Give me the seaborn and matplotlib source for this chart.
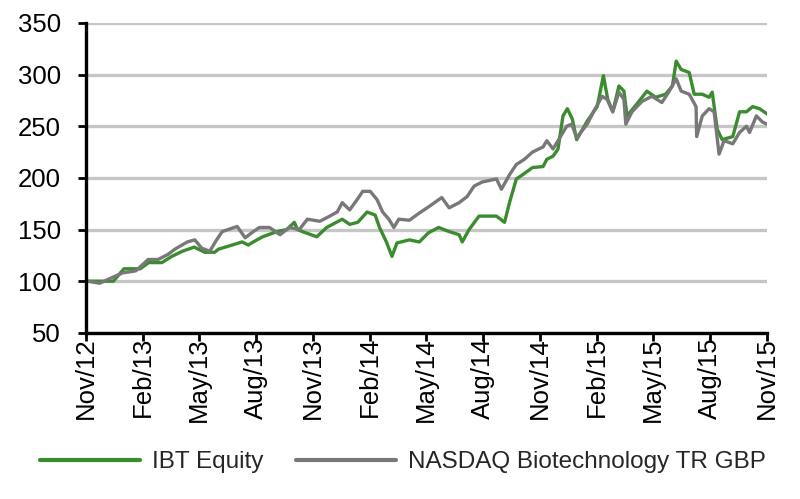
import pandas as pd
import matplotlib.pyplot as plt
import matplotlib.dates as mdates
import seaborn as sns

# === Values
ibt_dates = [
    "2012-11-04", "2012-12-15", "2013-01-01", "2013-01-27", "2013-02-10", "2013-03-03",
    "2013-03-19", "2013-04-05", "2013-04-24", "2013-05-11", "2013-05-27", "2013-06-02",
    "2013-06-24", "2013-07-10", "2013-07-20", "2013-07-28", "2013-08-12", "2013-09-04",
    "2013-09-20", "2013-10-02", "2013-10-07", "2013-10-15", "2013-11-07", "2013-11-23",
    "2013-12-18", "2013-12-30", "2014-01-12", "2014-01-27", "2014-02-09", "2014-02-16",
    "2014-02-27", "2014-03-08", "2014-03-16", "2014-04-05", "2014-04-21", "2014-05-06",
    "2014-05-22", "2014-06-08", "2014-06-24", "2014-06-29", "2014-07-10", "2014-07-26",
    "2014-08-23", "2014-09-05", "2014-09-13", "2014-09-24", "2014-10-04", "2014-10-20",
    "2014-11-06", "2014-11-12", "2014-11-22", "2014-11-30", "2014-12-08", "2014-12-15",
    "2014-12-23", "2014-12-30", "2015-01-16", "2015-02-01", "2015-02-11", "2015-02-18",
    "2015-02-26", "2015-03-08", "2015-03-16", "2015-03-21", "2015-04-05", "2015-04-22",
    "2015-05-06", "2015-05-22", "2015-06-02", "2015-06-08", "2015-06-16", "2015-06-29",
    "2015-07-07", "2015-07-20", "2015-07-31", "2015-08-05", "2015-08-13", "2015-08-21",
    "2015-09-07", "2015-09-18", "2015-09-29", "2015-10-09", "2015-10-20", "2015-11-01",
]
ibt_values = [
    100, 100, 112, 112, 118, 118,
    124, 129, 133, 128, 128, 131,
    135, 138, 135, 138, 143, 148,
    150, 157, 150, 148, 143, 152,
    160, 155, 157, 167, 164, 152,
    138, 124, 137, 140, 138, 147,
    152, 148, 145, 138, 150, 163,
    163, 157, 176, 199, 203, 210,
    211, 218, 221, 228, 260, 267,
    257, 237, 255, 269, 299, 276,
    264, 289, 284, 260, 271, 284,
    278, 281, 289, 313, 305, 302,
    281, 281, 278, 283, 247, 237,
    240, 264, 264, 269, 267, 262,
]

nbi_dates = [
    "2012-11-04", "2012-11-23", "2012-12-11", "2012-12-30", "2013-01-20", "2013-02-09",
    "2013-02-25", "2013-03-13", "2013-03-24", "2013-04-13", "2013-04-25", "2013-05-06",
    "2013-05-19", "2013-05-30", "2013-06-08", "2013-07-02", "2013-07-15", "2013-07-28",
    "2013-08-07", "2013-08-23", "2013-09-09", "2013-09-24", "2013-10-10", "2013-10-23",
    "2013-11-12", "2013-11-28", "2013-12-10", "2013-12-18", "2013-12-30", "2014-01-11",
    "2014-01-20", "2014-02-01", "2014-02-12", "2014-02-21", "2014-03-03", "2014-03-11",
    "2014-03-19", "2014-04-05", "2014-04-21", "2014-05-06", "2014-05-27", "2014-06-08",
    "2014-06-24", "2014-07-07", "2014-07-18", "2014-07-31", "2014-08-23", "2014-08-31",
    "2014-09-13", "2014-09-24", "2014-10-07", "2014-10-20", "2014-11-06", "2014-11-12",
    "2014-11-22", "2014-12-03", "2014-12-14", "2014-12-22", "2014-12-30", "2015-01-16",
    "2015-01-26", "2015-02-09", "2015-02-17", "2015-02-26", "2015-03-08", "2015-03-16",
    "2015-03-19", "2015-03-29", "2015-04-14", "2015-04-30", "2015-05-16", "2015-05-27",
    "2015-06-08", "2015-06-16", "2015-06-29", "2015-07-10", "2015-07-11", "2015-07-20",
    "2015-07-31", "2015-08-08", "2015-08-16", "2015-08-24", "2015-09-07", "2015-09-18",
    "2015-09-29", "2015-10-04", "2015-10-15", "2015-10-25", "2015-11-01",
]
nbi_values = [
    100, 98, 103, 108, 110, 121,
    121, 126, 131, 138, 140, 132,
    129, 140, 148, 153, 142, 148,
    152, 152, 145, 152, 150, 160,
    158, 163, 167, 176, 169, 179,
    187, 187, 179, 167, 160, 152,
    160, 159, 166, 172, 181, 171,
    176, 182, 192, 196, 199, 189,
    203, 213, 218, 225, 230, 236,
    228, 239, 250, 252, 239, 252,
    264, 279, 276, 264, 283, 276,
    252, 264, 274, 279, 273, 283,
    296, 284, 281, 269, 240, 260,
    267, 264, 223, 236, 233, 244,
    250, 244, 260, 254, 252,
]

series_names = ["IBT Equity", "NASDAQ Biotechnology TR GBP"]
colors = {"IBT Equity": "#3B8C2F", "NASDAQ Biotechnology TR GBP": "#787878"}

df = pd.concat([
    pd.DataFrame({"Date": pd.to_datetime(ibt_dates), "Value": ibt_values, "Series": series_names[0]}),
    pd.DataFrame({"Date": pd.to_datetime(nbi_dates), "Value": nbi_values, "Series": series_names[1]}),
])

# === Style
sns.set_theme(style="white")
plt.rcParams["font.family"] = ["Liberation Sans", "DejaVu Sans"]

fig = plt.figure(figsize=(8, 4.99), dpi=100)
ax = fig.add_axes([0.1075, 0.333, 0.8512, 0.621])

sns.lineplot(data=df, x="Date", y="Value", hue="Series", hue_order=series_names,
             palette=colors, linewidth=2.4, estimator=None, sort=True, ax=ax)

ax.set_xlim(pd.Timestamp("2012-11-01"), pd.Timestamp("2015-11-01"))
ax.set_ylim(50, 350)
ax.set_yticks(range(50, 351, 50))
ax.xaxis.set_major_locator(mdates.MonthLocator(bymonth=[2, 5, 8, 11]))
ax.xaxis.set_major_formatter(mdates.DateFormatter("%b/%y"))
ax.set_xlabel("")
ax.set_ylabel("")

ax.yaxis.grid(True, color="#C6C6C6", linewidth=2.4)
ax.set_axisbelow(True)
for side in ["top", "right"]:
    ax.spines[side].set_visible(False)
for side in ["left", "bottom"]:
    ax.spines[side].set_color("black")
    ax.spines[side].set_linewidth(2.4)

ax.tick_params(axis="both", which="major", direction="out", length=6, width=2,
               color="black", labelsize=18.5, labelcolor="black", left=True, bottom=True)
ax.tick_params(axis="x", labelrotation=90, pad=-3)
ax.tick_params(axis="y", pad=12)

handles, labels = ax.get_legend_handles_labels()
ax.legend(handles, labels, loc="center", bbox_to_anchor=(0.504, 0.074),
          bbox_transform=fig.transFigure, ncol=2, frameon=False,
          handlelength=4.1, handletextpad=0.5, columnspacing=1.35,
          prop={"family": ["Liberation Sans", "DejaVu Sans"], "size": 17.5})
for line in ax.get_legend().get_lines():
    line.set_linewidth(3)

fig.savefig("out.png", dpi=100)
